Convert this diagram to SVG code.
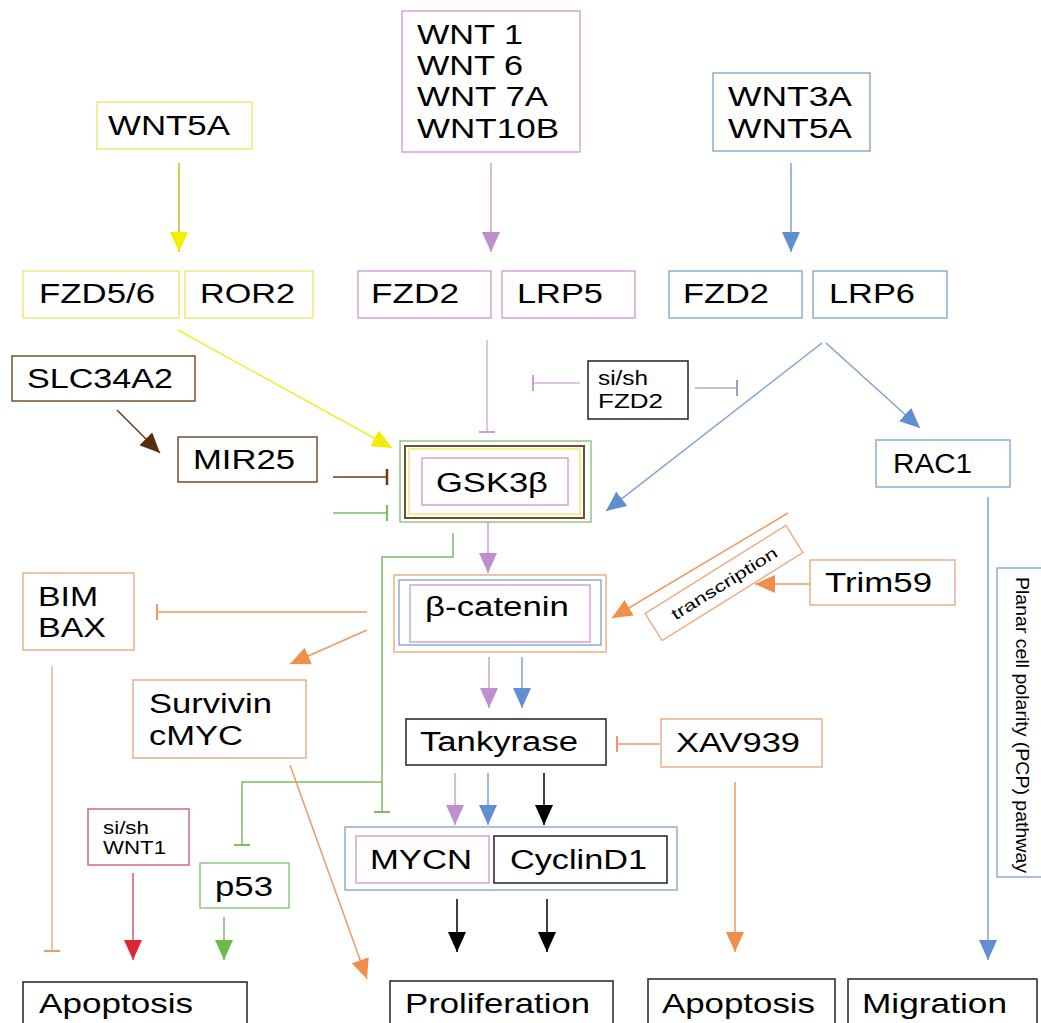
<svg xmlns="http://www.w3.org/2000/svg" width="1041" height="1023" viewBox="0 0 1041 1023">
<style>
text{font-family:"Liberation Sans",Arial,sans-serif;fill:#000}
.t{font-size:27px}
.tt{font-size:28px}
.s{font-size:20px}
.xs{font-size:18px}
rect{fill:none;stroke-width:1.5}
.yl{stroke:#eee87a}.pu{stroke:#cfa6d6}.bl{stroke:#8eacd2}.or{stroke:#e9b088}.gr{stroke:#93c487}.br{stroke:#6e4f36}.rd{stroke:#cf6b7a}.bk{stroke:#222}
#edges path,#edges line{fill:none;stroke-width:1.5}
</style>
<defs>
<marker id="aY" viewBox="0 0 20 18" refX="20" refY="9" markerWidth="20" markerHeight="18" markerUnits="userSpaceOnUse" orient="auto"><path d="M0,0L20,9L0,18z" fill="#f3ee00"/></marker>
<marker id="aP" viewBox="0 0 20 18" refX="20" refY="9" markerWidth="20" markerHeight="18" markerUnits="userSpaceOnUse" orient="auto"><path d="M0,0L20,9L0,18z" fill="#bf8fcc"/></marker>
<marker id="aB" viewBox="0 0 20 18" refX="20" refY="9" markerWidth="20" markerHeight="18" markerUnits="userSpaceOnUse" orient="auto"><path d="M0,0L20,9L0,18z" fill="#5f8fd0"/></marker>
<marker id="aO" viewBox="0 0 20 18" refX="20" refY="9" markerWidth="20" markerHeight="18" markerUnits="userSpaceOnUse" orient="auto"><path d="M0,0L20,9L0,18z" fill="#ef8f4c"/></marker>
<marker id="aG" viewBox="0 0 20 18" refX="20" refY="9" markerWidth="20" markerHeight="18" markerUnits="userSpaceOnUse" orient="auto"><path d="M0,0L20,9L0,18z" fill="#6cba45"/></marker>
<marker id="aR" viewBox="0 0 20 18" refX="20" refY="9" markerWidth="20" markerHeight="18" markerUnits="userSpaceOnUse" orient="auto"><path d="M0,0L20,9L0,18z" fill="#e0252f"/></marker>
<marker id="aK" viewBox="0 0 20 18" refX="20" refY="9" markerWidth="20" markerHeight="18" markerUnits="userSpaceOnUse" orient="auto"><path d="M0,0L20,9L0,18z" fill="#000"/></marker>
<marker id="aN" viewBox="0 0 20 18" refX="20" refY="9" markerWidth="20" markerHeight="18" markerUnits="userSpaceOnUse" orient="auto"><path d="M0,0L20,9L0,18z" fill="#5a2d0c"/></marker>
<marker id="tP" viewBox="0 0 4 16" refX="2" refY="8" markerWidth="4" markerHeight="16" markerUnits="userSpaceOnUse" orient="auto"><path d="M2,0V16" stroke="#c9a0d2" stroke-width="2"/></marker>
<marker id="tB" viewBox="0 0 4 16" refX="2" refY="8" markerWidth="4" markerHeight="16" markerUnits="userSpaceOnUse" orient="auto"><path d="M2,0V16" stroke="#8fa8c2" stroke-width="2"/></marker>
<marker id="tO" viewBox="0 0 4 16" refX="2" refY="8" markerWidth="4" markerHeight="16" markerUnits="userSpaceOnUse" orient="auto"><path d="M2,0V16" stroke="#eb9a68" stroke-width="2"/></marker>
<marker id="tG" viewBox="0 0 4 16" refX="2" refY="8" markerWidth="4" markerHeight="16" markerUnits="userSpaceOnUse" orient="auto"><path d="M2,0V16" stroke="#7cbc62" stroke-width="2"/></marker>
<marker id="tN" viewBox="0 0 4 16" refX="2" refY="8" markerWidth="4" markerHeight="16" markerUnits="userSpaceOnUse" orient="auto"><path d="M2,0V16" stroke="#6b3d1c" stroke-width="2.5"/></marker>
</defs>
<rect x="0" y="0" width="1041" height="1023" style="fill:#fff;stroke:none"/>

<g id="edges">
<line x1="179" y1="163" x2="179" y2="252" stroke="#c2bb2a" marker-end="url(#aY)"/>
<line x1="491" y1="163" x2="491" y2="252" stroke="#c9a0d2" marker-end="url(#aP)"/>
<line x1="791" y1="163" x2="791" y2="252" stroke="#7da2d4" marker-end="url(#aB)"/>
<line x1="178" y1="330" x2="392" y2="448" stroke="#f0ec30" marker-end="url(#aY)"/>
<line x1="487" y1="340" x2="487" y2="432" stroke="#d5b3dc" marker-end="url(#tP)"/>
<line x1="580" y1="383" x2="533" y2="383" stroke="#d5b3dc" marker-end="url(#tP)"/>
<line x1="695" y1="388" x2="737" y2="388" stroke="#9fb4c8" marker-end="url(#tB)"/>
<line x1="822" y1="343" x2="606" y2="511" stroke="#7da2d4" marker-end="url(#aB)"/>
<line x1="826" y1="343" x2="920" y2="428" stroke="#7da2d4" marker-end="url(#aB)"/>
<line x1="117" y1="410" x2="160" y2="453" stroke="#5a3a1c" marker-end="url(#aN)"/>
<line x1="333" y1="477" x2="387" y2="477" stroke="#6b3d1c" marker-end="url(#tN)"/>
<line x1="333" y1="513" x2="387" y2="513" stroke="#7cbc62" marker-end="url(#tG)"/>
<line x1="488" y1="522" x2="488" y2="573" stroke="#c9a0d2" marker-end="url(#aP)"/>
<path d="M453,533V557H382V812" stroke="#7cbc62" marker-end="url(#tG)"/>
<path d="M382,782H242V845" stroke="#7cbc62" marker-end="url(#tG)"/>
<line x1="367" y1="612" x2="157" y2="612" stroke="#eb9a68" marker-end="url(#tO)"/>
<line x1="367" y1="630" x2="290" y2="664" stroke="#eb9a68" marker-end="url(#aO)"/>
<line x1="290" y1="765" x2="367" y2="979" stroke="#eb9a68" marker-end="url(#aO)"/>
<line x1="52" y1="666" x2="52" y2="951" stroke="#eeb08a" marker-end="url(#tO)"/>
<line x1="133" y1="873" x2="133" y2="960" stroke="#d65a62" marker-end="url(#aR)"/>
<line x1="224" y1="917" x2="224" y2="960" stroke="#7cbc62" marker-end="url(#aG)"/>
<line x1="489" y1="657" x2="489" y2="708" stroke="#c9a0d2" marker-end="url(#aP)"/>
<line x1="522" y1="657" x2="522" y2="708" stroke="#7da2d4" marker-end="url(#aB)"/>
<line x1="455" y1="773" x2="455" y2="825" stroke="#c9a0d2" marker-end="url(#aP)"/>
<line x1="488" y1="773" x2="488" y2="825" stroke="#7da2d4" marker-end="url(#aB)"/>
<line x1="544" y1="773" x2="544" y2="825" stroke="#000" marker-end="url(#aK)"/>
<line x1="660" y1="744" x2="617" y2="744" stroke="#eb9a68" marker-end="url(#tO)"/>
<line x1="735" y1="782" x2="735" y2="952" stroke="#eb9a68" marker-end="url(#aO)"/>
<line x1="457" y1="899" x2="457" y2="952" stroke="#000" marker-end="url(#aK)"/>
<line x1="547" y1="899" x2="547" y2="952" stroke="#000" marker-end="url(#aK)"/>
<line x1="988" y1="497" x2="988" y2="960" stroke="#7da2d4" marker-end="url(#aB)"/>
<line x1="810" y1="584" x2="755" y2="584" stroke="#eb9a68" marker-end="url(#aO)"/>
<line x1="788" y1="513" x2="612" y2="618" stroke="#eb9a68" marker-end="url(#aO)"/>
</g>

<g id="n-wnt5a"><rect class="yl" x="97" y="102" width="155" height="47"/><text class="t" x="108" y="135" textLength="122" lengthAdjust="spacingAndGlyphs">WNT5A</text></g>
<g id="n-wnt1"><rect class="pu" x="402" y="11" width="178" height="141"/>
<text class="tt" x="417" y="44" textLength="106" lengthAdjust="spacingAndGlyphs">WNT 1</text>
<text class="tt" x="417" y="75" textLength="106" lengthAdjust="spacingAndGlyphs">WNT 6</text>
<text class="tt" x="417" y="106" textLength="131" lengthAdjust="spacingAndGlyphs">WNT 7A</text>
<text class="tt" x="417" y="138" textLength="142" lengthAdjust="spacingAndGlyphs">WNT10B</text></g>
<g id="n-wnt3a"><rect class="bl" x="713" y="73" width="157" height="78"/>
<text class="tt" x="728" y="106" textLength="124" lengthAdjust="spacingAndGlyphs">WNT3A</text>
<text class="tt" x="728" y="138" textLength="124" lengthAdjust="spacingAndGlyphs">WNT5A</text></g>
<g id="n-fzd56"><rect class="yl" x="23" y="271" width="156" height="47"/><text class="tt" x="39" y="303" textLength="116" lengthAdjust="spacingAndGlyphs">FZD5/6</text></g>
<g id="n-ror2"><rect class="yl" x="185" y="271" width="128" height="47"/><text class="tt" x="200" y="303" textLength="95" lengthAdjust="spacingAndGlyphs">ROR2</text></g>
<g id="n-fzd2a"><rect class="pu" x="358" y="271" width="133" height="47"/><text class="tt" x="371" y="303" textLength="88" lengthAdjust="spacingAndGlyphs">FZD2</text></g>
<g id="n-lrp5"><rect class="pu" x="502" y="271" width="133" height="47"/><text class="tt" x="517" y="303" textLength="86" lengthAdjust="spacingAndGlyphs">LRP5</text></g>
<g id="n-fzd2b"><rect class="bl" x="669" y="271" width="133" height="47"/><text class="tt" x="683" y="303" textLength="86" lengthAdjust="spacingAndGlyphs">FZD2</text></g>
<g id="n-lrp6"><rect class="bl" x="813" y="271" width="134" height="47"/><text class="tt" x="829" y="303" textLength="86" lengthAdjust="spacingAndGlyphs">LRP6</text></g>
<g id="n-slc"><rect class="br" x="12" y="356" width="183" height="45"/><text class="t" x="27" y="388" textLength="146" lengthAdjust="spacingAndGlyphs">SLC34A2</text></g>
<g id="n-mir25"><rect class="br" x="178" y="437" width="139" height="45"/><text class="t" x="193" y="469" textLength="102" lengthAdjust="spacingAndGlyphs">MIR25</text></g>
<g id="n-sifzd2"><rect class="bk" x="588" y="361" width="100" height="58"/>
<text class="s" x="598" y="385" textLength="50" lengthAdjust="spacingAndGlyphs">si/sh</text>
<text class="s" x="598" y="408" textLength="65" lengthAdjust="spacingAndGlyphs">FZD2</text></g>
<g id="n-gsk"><rect class="gr" x="400" y="441" width="191" height="81"/><rect class="br" x="405" y="446" width="179" height="72" style="stroke-width:2"/><rect class="yl" x="409" y="449" width="171" height="65"/><rect class="pu" x="422" y="458" width="146" height="47"/>
<text class="t" x="436" y="492" textLength="112" lengthAdjust="spacingAndGlyphs">GSK3β</text></g>
<g id="n-rac1"><rect class="bl" x="876" y="440" width="134" height="47"/><text class="t" x="893" y="473" textLength="79" lengthAdjust="spacingAndGlyphs">RAC1</text></g>
<g id="n-transcription" transform="rotate(-32 724 583)"><rect class="or" x="641" y="567" width="166" height="32"/><text x="724" y="589" text-anchor="middle" style="font-size:16px" textLength="122" lengthAdjust="spacingAndGlyphs">transcription</text></g>
<g id="n-trim59"><rect class="or" x="810" y="560" width="145" height="45"/><text class="t" x="825" y="592" textLength="107" lengthAdjust="spacingAndGlyphs">Trim59</text></g>
<g id="n-bcat"><rect class="or" x="394" y="575" width="212" height="77"/><rect class="bl" x="399" y="580" width="202" height="65"/><rect class="pu" x="410" y="585" width="180" height="57"/>
<text class="t" x="425" y="616" textLength="144" lengthAdjust="spacingAndGlyphs">β-catenin</text></g>
<g id="n-bim"><rect class="or" x="23" y="573" width="111" height="77"/>
<text class="t" x="38" y="606" textLength="60" lengthAdjust="spacingAndGlyphs">BIM</text>
<text class="t" x="38" y="637" textLength="68" lengthAdjust="spacingAndGlyphs">BAX</text></g>
<g id="n-survivin"><rect class="or" x="133" y="680" width="173" height="78"/>
<text class="t" x="149" y="713" textLength="123" lengthAdjust="spacingAndGlyphs">Survivin</text>
<text class="t" x="149" y="745" textLength="94" lengthAdjust="spacingAndGlyphs">cMYC</text></g>
<g id="n-tank"><rect class="bk" x="406" y="719" width="200" height="46"/><text class="t" x="420" y="751" textLength="158" lengthAdjust="spacingAndGlyphs">Tankyrase</text></g>
<g id="n-xav"><rect class="or" x="661" y="719" width="161" height="48"/><text class="t" x="676" y="752" textLength="124" lengthAdjust="spacingAndGlyphs">XAV939</text></g>
<g id="n-mycn"><rect class="bl" x="345" y="827" width="332" height="63"/><rect class="pu" x="356" y="836" width="133" height="47"/><text class="t" x="370" y="869" textLength="102" lengthAdjust="spacingAndGlyphs">MYCN</text></g>
<g id="n-cyclin"><rect class="bk" x="494" y="836" width="173" height="47"/><text class="t" x="510" y="869" textLength="137" lengthAdjust="spacingAndGlyphs">CyclinD1</text></g>
<g id="n-siwnt1"><rect class="rd" x="88" y="809" width="101" height="56"/>
<text class="xs" x="103" y="834" textLength="46" lengthAdjust="spacingAndGlyphs">si/sh</text>
<text class="xs" x="103" y="854" textLength="63" lengthAdjust="spacingAndGlyphs">WNT1</text></g>
<g id="n-p53"><rect class="gr" x="200" y="863" width="89" height="45"/><text class="t" x="215" y="896" textLength="58" lengthAdjust="spacingAndGlyphs">p53</text></g>
<g id="n-pcp"><rect class="bl" x="997" y="568" width="50" height="309"/><text transform="translate(1016 725) rotate(90)" text-anchor="middle" x="0" y="0" style="font-size:19px" textLength="296" lengthAdjust="spacingAndGlyphs">Planar cell polarity (PCP) pathway</text></g>
<g id="n-apop1"><rect class="bk" x="23" y="982" width="224" height="50"/><text class="tt" x="39" y="1013" textLength="154" lengthAdjust="spacingAndGlyphs">Apoptosis</text></g>
<g id="n-prolif"><rect class="bk" x="390" y="981" width="223" height="50"/><text class="tt" x="405" y="1013" textLength="185" lengthAdjust="spacingAndGlyphs">Proliferation</text></g>
<g id="n-apop2"><rect class="bk" x="648" y="979" width="187" height="50"/><text class="tt" x="662" y="1013" textLength="153" lengthAdjust="spacingAndGlyphs">Apoptosis</text></g>
<g id="n-migr"><rect class="bk" x="848" y="979" width="189" height="50"/><text class="tt" x="862" y="1013" textLength="145" lengthAdjust="spacingAndGlyphs">Migration</text></g>
</svg>
